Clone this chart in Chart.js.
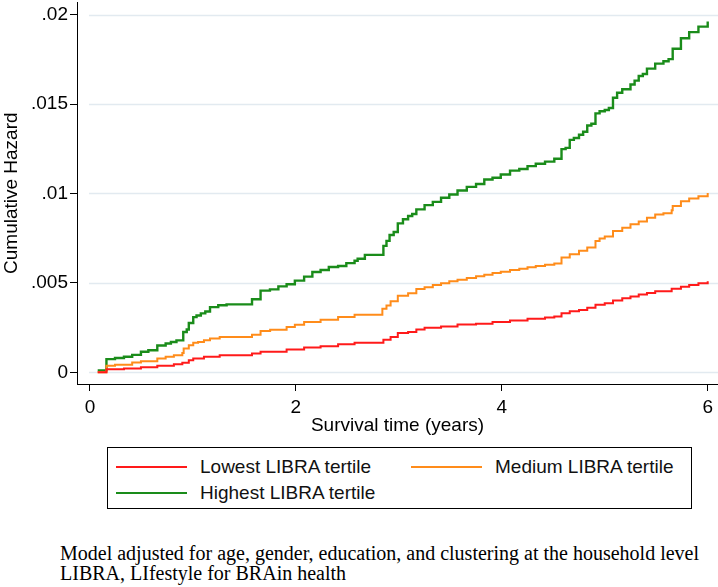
<!DOCTYPE html>
<html>
<head>
<meta charset="utf-8">
<script src="https://cdn.jsdelivr.net/npm/chart.js@4.4.1/dist/chart.umd.min.js"></script>
<style>
    body { margin: 0; background: #fff; font-family: "Liberation Sans", Arial, sans-serif; }
    #wrap { position: relative; width: 718px; height: 587px; overflow: hidden; }
    #hazardChart { position: absolute; left: 0; top: -11px; }
    #legend { position: absolute; left: 107px; top: 447px; width: 583px; height: 60px; border: 1px solid #000; }
    .item { position: absolute; display: flex; align-items: center; height: 26px; font-size: 19px; color: #111; white-space: nowrap; }
    .swatch { display: inline-block; width: 71px; height: 0; border-top: 2px solid; margin-right: 13px; }
    #note { position: absolute; left: 60px; top: 543px; font-family: "Liberation Serif", "Times New Roman", serif; font-size: 20px; line-height: 20px; color: #000; white-space: nowrap; }
</style>
</head>
<body>
<div id="wrap">
    <canvas id="hazardChart" width="718" height="448"></canvas>
    <div id="legend"></div>
    <div id="note">Model adjusted for age, gender, education, and clustering at the household level<br>LIBRA, LIfestyle for BRAin health</div>
</div>
<script>
const seriesNames = ["Lowest LIBRA tertile", "Medium LIBRA tertile", "Highest LIBRA tertile"];
const seriesColors = ["#ff1a1a", "#ff8c1a", "#1a8c1a"];

const xTicks = [0, 2, 4, 6];
const yTicks = [0, 0.005, 0.01, 0.015, 0.02];
const yTickLabels = ["0", ".005", ".01", ".015", ".02"];

// step by step
const lowestTime = [0.075, 0.16, 0.33, 0.495, 0.654, 0.815, 0.897, 0.96, 1.003, 1.107,
    1.26, 1.574, 1.657, 1.91, 2.08, 2.24, 2.41, 2.57, 2.85, 2.92,
    2.99, 3.09, 3.17, 3.25, 3.41, 3.57, 3.75, 3.91, 4.08, 4.25,
    4.42, 4.51, 4.58, 4.66, 4.75, 4.83, 4.91, 5.0, 5.08, 5.17,
    5.25, 5.33, 5.41, 5.49, 5.65, 5.74, 5.82, 5.91, 6.0];
const lowestHazard = [0, 0.00017, 0.00022, 0.00028, 0.00037, 0.00046, 0.00054, 0.00068, 0.00078, 0.00087,
    0.00096, 0.00106, 0.00115, 0.00128, 0.00139, 0.00146, 0.00157, 0.00165, 0.00183, 0.00198,
    0.0022, 0.00226, 0.00239, 0.0025, 0.00257, 0.00267, 0.00272, 0.00281, 0.0029, 0.003,
    0.00307, 0.00313, 0.00331, 0.00342, 0.00348, 0.00361, 0.00378, 0.00387, 0.00402, 0.00415,
    0.00424, 0.00435, 0.00444, 0.00453, 0.00467, 0.00479, 0.00489, 0.00498, 0.00509];

const mediumTime = [0.075, 0.16, 0.243, 0.41, 0.495, 0.654, 0.735, 0.815, 0.897, 0.91,
    0.96, 1.003, 1.05, 1.107, 1.166, 1.26, 1.574, 1.657, 1.75, 1.91,
    1.99, 2.08, 2.24, 2.41, 2.57, 2.84, 2.88, 2.92, 2.99, 3.09,
    3.17, 3.25, 3.33, 3.41, 3.49, 3.57, 3.66, 3.75, 3.83, 3.91,
    3.99, 4.08, 4.17, 4.25, 4.33, 4.42, 4.51, 4.58, 4.66, 4.75,
    4.83, 4.91, 4.95, 5.0, 5.08, 5.17, 5.25, 5.33, 5.41, 5.49,
    5.57, 5.65, 5.66, 5.74, 5.82, 5.91, 6.0];
const mediumHazard = [0, 0.00037, 0.00043, 0.00055, 0.00062, 0.00078, 0.00087, 0.00096, 0.00109, 0.00133,
    0.00152, 0.00165, 0.0017, 0.00179, 0.00189, 0.00198, 0.00211, 0.00231, 0.00238, 0.00253,
    0.00266, 0.00281, 0.00294, 0.00309, 0.00322, 0.00355, 0.00374, 0.00398, 0.00429, 0.00442,
    0.00466, 0.00476, 0.00489, 0.00498, 0.00509, 0.00518, 0.00528, 0.00537, 0.00546, 0.00555,
    0.00563, 0.00572, 0.00579, 0.00587, 0.00594, 0.00602, 0.00609, 0.00642, 0.00661, 0.0068,
    0.00698, 0.00735, 0.00748, 0.00759, 0.00791, 0.00809, 0.00828, 0.00843, 0.00865, 0.00883,
    0.00889, 0.00906, 0.0093, 0.00957, 0.00972, 0.00985, 0.01003];

const highestTime = [0.075, 0.16, 0.243, 0.33, 0.41, 0.495, 0.567, 0.654, 0.735, 0.786,
    0.84, 0.906, 0.94, 0.96, 1.003, 1.035, 1.077, 1.12, 1.166, 1.246,
    1.327, 1.574, 1.657, 1.748, 1.83, 1.91, 1.99, 2.08, 2.16, 2.24,
    2.32, 2.41, 2.49, 2.57, 2.6, 2.67, 2.85, 2.88, 2.91, 2.95,
    2.99, 3.04, 3.09, 3.13, 3.17, 3.25, 3.33, 3.41, 3.49, 3.57,
    3.66, 3.75, 3.83, 3.91, 3.99, 4.08, 4.17, 4.25, 4.33, 4.42,
    4.51, 4.58, 4.62, 4.66, 4.7, 4.75, 4.79, 4.83, 4.87, 4.91,
    4.95, 5.0, 5.04, 5.08, 5.12, 5.17, 5.25, 5.29, 5.33, 5.37,
    5.41, 5.49, 5.57, 5.62, 5.66, 5.74, 5.82, 5.91, 6.0];
const highestHazard = [0.00011, 0.00074, 0.0008, 0.00087, 0.00098, 0.00115, 0.00124, 0.0015, 0.00161, 0.0017,
    0.00179, 0.00226, 0.0024, 0.00276, 0.00309, 0.00318, 0.0033, 0.0034, 0.00365, 0.00375,
    0.0038, 0.00409, 0.00457, 0.00464, 0.00481, 0.00493, 0.00513, 0.00535, 0.00561, 0.00572,
    0.00589, 0.00595, 0.00611, 0.00624, 0.00635, 0.00657, 0.00707, 0.00735, 0.00768, 0.00785,
    0.00833, 0.00856, 0.00874, 0.00885, 0.00911, 0.00935, 0.00953, 0.00976, 0.00994, 0.01017,
    0.01037, 0.01053, 0.01078, 0.01088, 0.01106, 0.01128, 0.01137, 0.01153, 0.01166, 0.01178,
    0.01194, 0.01248, 0.01255, 0.013, 0.0131, 0.01328, 0.01345, 0.0138, 0.0139, 0.01448,
    0.0146, 0.01467, 0.01478, 0.01535, 0.01563, 0.01583, 0.01609, 0.01631, 0.01657, 0.01668,
    0.01698, 0.01726, 0.01739, 0.01751, 0.01809, 0.01868, 0.01902, 0.01933, 0.01961];

const seriesTimes = [lowestTime, mediumTime, highestTime];
const seriesHazards = [lowestHazard, mediumHazard, highestHazard];

const fontFamily = '"Liberation Sans", Arial, sans-serif';

// light grid lines that start at x = 0, like the plot region of the original
const plotGrid = {
    id: "plotGrid",
    beforeDatasetsDraw(chart) {
        const { ctx, chartArea, scales } = chart;
        const x0 = scales.x.getPixelForValue(0) - 1;
        ctx.save();
        ctx.strokeStyle = "#e2eaf0";
        ctx.lineWidth = 1.5;
        yTicks.forEach((v) => {
            const y = Math.round(scales.y.getPixelForValue(v)) + 0.5;
            ctx.beginPath();
            ctx.moveTo(x0, y);
            ctx.lineTo(chartArea.right, y);
            ctx.stroke();
        });
        ctx.restore();
    },
};

const datasets = seriesNames.map((name, i) => ({
    label: name,
    data: seriesTimes[i].map((t, j) => ({ x: t, y: seriesHazards[i][j] })),
    borderColor: seriesColors[i],
    backgroundColor: seriesColors[i],
    borderWidth: i === 2 ? 2.4 : 2,
    pointRadius: 0,
    stepped: "before",
    fill: false,
}));

const ctx = document.getElementById("hazardChart").getContext("2d");
const hazardChart = new Chart(ctx, {
    type: "line",
    data: { datasets: datasets },
    plugins: [plotGrid],
    options: {
        responsive: false,
        animation: false,
        layout: { padding: 0 },
        plugins: {
            legend: { display: false },
            tooltip: { enabled: false },
        },
        scales: {
            x: {
                type: "linear",
                min: -0.126,
                max: 6.1,
                afterBuildTicks: (scale) => {
                    scale.ticks = xTicks.map((v) => ({ value: v }));
                },
                afterFit: (scale) => {
                    scale.height = 53;
                },
                grid: { drawOnChartArea: false, drawTicks: true, tickLength: 7, color: "#000", lineWidth: 1 },
                border: { display: true, color: "#000", width: 1 },
                ticks: {
                    color: "#000",
                    padding: 5,
                    maxRotation: 0,
                    font: { family: fontFamily, size: 19 },
                    callback: (v) => String(v),
                },
                title: {
                    display: true,
                    text: "Survival time (years)",
                    color: "#000",
                    padding: 0,
                    font: { family: fontFamily, size: 19 },
                },
            },
            y: {
                min: -0.00065,
                max: 0.020683,
                afterBuildTicks: (scale) => {
                    scale.ticks = yTicks.map((v) => ({ value: v }));
                },
                afterFit: (scale) => {
                    scale.width = 77;
                },
                grid: { drawOnChartArea: false, drawTicks: true, tickLength: 7, color: "#000", lineWidth: 1 },
                border: { display: true, color: "#000", width: 1 },
                ticks: {
                    color: "#000",
                    padding: 2,
                    font: { family: fontFamily, size: 19 },
                    callback: (v) => yTickLabels[yTicks.indexOf(v)],
                },
                title: {
                    display: true,
                    text: "Cumulative Hazard",
                    color: "#000",
                    padding: 0,
                    font: { family: fontFamily, size: 19 },
                },
            },
        },
    },
});

// legend box built from the chart's own datasets
const legendEl = document.getElementById("legend");
const colLeft = [8, 303];
const rowTop = [6, 32];
hazardChart.data.datasets.forEach((ds, i) => {
    const item = document.createElement("div");
    item.className = "item";
    item.style.left = colLeft[i % 2] + "px";
    item.style.top = rowTop[Math.floor(i / 2)] + "px";
    const swatch = document.createElement("span");
    swatch.className = "swatch";
    swatch.style.borderTopColor = ds.borderColor;
    item.appendChild(swatch);
    item.appendChild(document.createTextNode(ds.label));
    legendEl.appendChild(item);
});
</script>
</body>
</html>
